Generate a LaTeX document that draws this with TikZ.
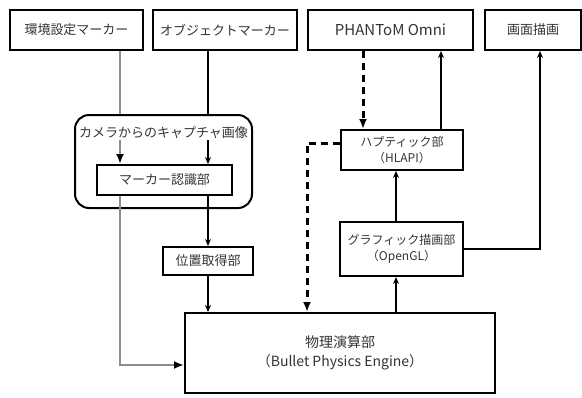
\documentclass[tikz,border=0pt]{standalone}
\usepackage{fontspec}
\setmainfont{Noto Sans CJK JP}
\usetikzlibrary{arrows.meta}

\begin{document}
\begin{tikzpicture}[x=1pt,y=-1pt,
  box/.style={draw,line width=2pt,inner sep=0pt,align=center,text=black!80,font=\fontsize{13}{17}\selectfont},
  feed/.style={line width=1.6pt,-{Stealth[length=7pt,width=6pt]}},
  grayfeed/.style={line width=2.8pt,black!45,-{Latex[length=10pt,width=8pt,color=black]}},
  hapticfeed/.style={line width=3pt,dash pattern=on 7pt off 5pt,-{Latex[length=10pt,width=8pt]}}]
\useasboundingbox (0,0) rectangle (582,397);
% top row
\draw node[box,minimum width=133pt,minimum height=40pt] (env) at (76.5,30) {環境設定マーカー};
\draw node[box,minimum width=144pt,minimum height=40pt] (obj) at (225,30) {オブジェクトマーカー};
\draw node[box,minimum width=165pt,minimum height=40pt,font=\fontsize{15}{18}\selectfont] (phantom) at (390.5,30) {PHANToM Omni};
\draw node[box,minimum width=96pt,minimum height=40pt] (screen) at (533,30) {画面描画};
% camera side
\draw node[box,rounded corners=14pt,minimum width=177pt,minimum height=93pt] (cam) at (163.5,161.5) {};
\draw node[inner sep=1pt,text=black!80,font=\fontsize{13}{17}\selectfont] (capt) at (163.5,133) {カメラからのキャプチャ画像};
\draw node[box,minimum width=135pt,minimum height=30pt] (marker) at (164.5,180) {マーカー認識部};
\draw node[box,minimum width=90pt,minimum height=28pt] (pos) at (208,261) {位置取得部};
% haptic and graphics side
\draw node[box,minimum width=122pt,minimum height=40pt,font=\fontsize{12}{16}\selectfont] (haptic) at (402,150) {ハプティック部\\（HLAPI）};
\draw node[box,minimum width=123pt,minimum height=54pt,font=\fontsize{12}{16}\selectfont] (graphics) at (401.5,249) {グラフィック描画部\\（OpenGL）};
\draw node[box,minimum width=310pt,minimum height=80pt,font=\fontsize{14}{19}\selectfont] (phys) at (340,353) {物理演算部\\（Bullet Physics Engine）};
% line columns
\coordinate (gx) at (120,0);
\coordinate (ox) at (208,0);
\coordinate (hx) at (307,0);
\coordinate (dx) at (363,0);
\coordinate (ux) at (441,0);
\coordinate (vx) at (396,0);
\coordinate (sx) at (540,0);
% connectors
\draw[grayfeed,-] (env.south -| gx) -- (cam.north -| gx);
\draw[grayfeed] (capt.south -| gx) -- (marker.north -| gx);
\draw[grayfeed] (marker.south -| gx) |- ([yshift=-12pt]phys.west);
\draw[feed,-] (obj.south -| ox) -- (cam.north -| ox);
\draw[feed] (capt.south -| ox) -- (marker.north -| ox);
\draw[feed] (marker.south -| ox) -- (pos.north);
\draw[feed] (pos.south) -- (phys.north -| pos);
\draw[hapticfeed] (phantom.south -| dx) -- (haptic.north -| dx);
\draw[feed] (haptic.north -| ux) -- (phantom.south -| ux);
\draw[hapticfeed] ([yshift=7pt]haptic.west) -| (phys.north -| hx);
\draw[feed] (phys.north -| vx) -- (graphics.south -| vx);
\draw[feed] (graphics.north -| vx) -- (haptic.south -| vx);
\draw[feed] (graphics.east) -| (screen.south -| sx);
\end{tikzpicture}
\end{document}
